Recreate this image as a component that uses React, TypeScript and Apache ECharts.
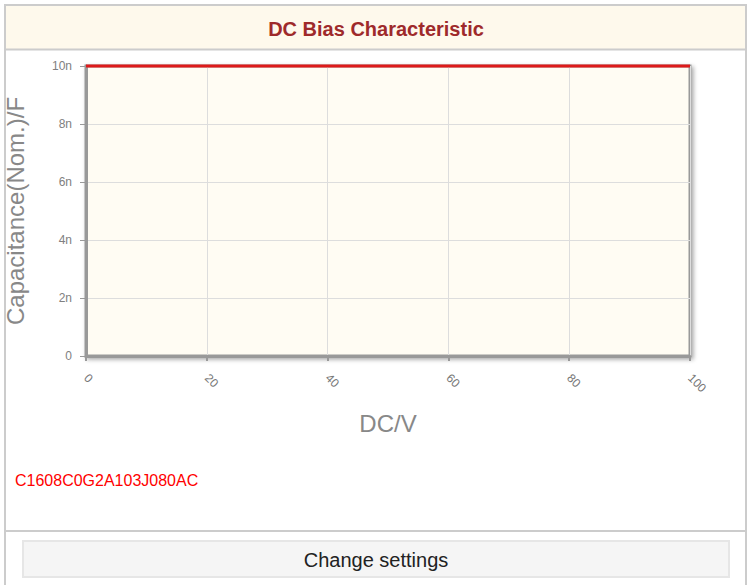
import React, { useEffect, useRef } from "react";
import * as echarts from "echarts";

const dcVoltage = [0, 10, 20, 30, 40, 50, 60, 70, 80, 90, 100];
const capacitance = [1e-8, 1e-8, 1e-8, 1e-8, 1e-8, 1e-8, 1e-8, 1e-8, 1e-8, 1e-8, 1e-8];
const xTicks = [0, 20, 40, 60, 80, 100];
const yTickLabels = ["0", "2n", "4n", "6n", "8n", "10n"];
const titleText = "DC Bias Characteristic";
const partNumber = "C1608C0G2A103J080AC";
const buttonText = "Change settings";
const xName = "DC/V";
const yName = "Capacitance(Nom.)/F";

export default function App() {
  const ref = useRef<HTMLDivElement>(null);
  useEffect(() => {
    document.body.style.margin = "0";
    const chart = echarts.init(ref.current!, null, { renderer: "svg" });
    const font = "Arial, 'Liberation Sans', sans-serif";
    chart.setOption({
      animation: false,
      backgroundColor: "#ffffff",
      graphic: [
        { type: "rect", z: -5, shape: { x: 6, y: 6, width: 739, height: 43 }, style: { fill: "#fef9ec" } },
        { type: "line", z: -4, shape: { x1: 6, y1: 49.5, x2: 745, y2: 49.5 }, style: { stroke: "#cccccc", lineWidth: 2 } },
        { type: "rect", z: -4, shape: { x: 5, y: 5, width: 741, height: 600 }, style: { fill: "none", stroke: "#cccccc", lineWidth: 2 } },
        { type: "line", z: -4, shape: { x1: 6, y1: 531, x2: 745, y2: 531 }, style: { stroke: "#cccccc", lineWidth: 2 } },
        { type: "rect", z: -4, shape: { x: 23, y: 541, width: 706, height: 36 }, style: { fill: "#f5f5f5", stroke: "#e6e6e6", lineWidth: 2 } },
        {
          type: "text", x: 376, y: 29,
          style: { text: titleText, fill: "#9e2a2b", font: `bold 20px ${font}`, align: "center", verticalAlign: "middle" },
        },
        {
          type: "text", x: 15, y: 480,
          style: { text: partNumber, fill: "#ff0000", font: `16px ${font}`, align: "left", verticalAlign: "middle" },
        },
        {
          type: "text", x: 376, y: 560,
          style: { text: buttonText, fill: "#222222", font: `20px ${font}`, align: "center", verticalAlign: "middle" },
        },
      ],
      grid: {
        left: 86, right: 62, top: 66, bottom: 229,
        outerBoundsMode: "none",
        containLabel: false,
        show: true,
        backgroundColor: "#fffcf3",
        borderColor: "#999999",
        borderWidth: 3,
        shadowColor: "rgba(0,0,0,0.35)",
        shadowBlur: 4,
        shadowOffsetX: 2,
        shadowOffsetY: 2,
      },
      xAxis: {
        type: "value",
        min: xTicks[0],
        max: xTicks[xTicks.length - 1],
        interval: 20,
        name: xName,
        nameLocation: "middle",
        nameGap: 55,
        nameTextStyle: { color: "#888888", fontSize: 24, fontFamily: font },
        axisLine: { show: true, lineStyle: { color: "#999999", width: 3 } },
        axisTick: { show: true, length: 5, lineStyle: { color: "#999999", width: 2 } },
        axisLabel: { rotate: -45, margin: 20, color: "#777777", fontSize: 12, fontFamily: font },
        splitLine: { show: true, lineStyle: { color: "#dddddd", width: 1 } },
      },
      yAxis: {
        type: "value",
        min: 0,
        max: 1e-8,
        interval: 2e-9,
        name: yName,
        nameLocation: "middle",
        nameGap: 59,
        nameTextStyle: { color: "#888888", fontSize: 24, fontFamily: font },
        axisLine: { show: true, lineStyle: { color: "#999999", width: 3 } },
        axisTick: { show: true, length: 6, lineStyle: { color: "#999999", width: 1 } },
        axisLabel: {
          margin: 14, color: "#808080", fontSize: 12, fontFamily: font,
          formatter: (v: number) => yTickLabels[Math.round(v / 2e-9)] ?? "",
        },
        splitLine: { show: true, lineStyle: { color: "#dddddd", width: 1 } },
      },
      series: [
        {
          type: "line",
          data: dcVoltage.map((x, i) => [x, capacitance[i]]),
          showSymbol: false,
          lineStyle: { color: "#dd1a1a", width: 3 },
          clip: false,
        },
      ],
    });
    return () => chart.dispose();
  }, []);
  return <div ref={ref} style={{ position: "absolute", left: 0, top: 0, width: 752, height: 585 }} />;
}
